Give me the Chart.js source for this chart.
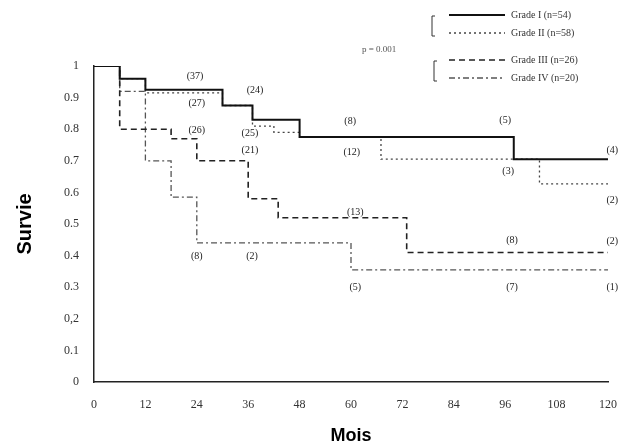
<!DOCTYPE html>
<html>
<head>
<meta charset="utf-8">
<script src="https://cdn.jsdelivr.net/npm/chart.js@4/dist/chart.umd.min.js"></script>
<style>
  html, body { margin: 0; padding: 0; background: #fff; }
  #wrap { width: 629px; height: 447px; }
</style>
</head>
<body>
<div id="wrap"><canvas id="survie" width="629" height="447"></canvas></div>
<script>
/* global Chart */

// Kaplan-Meier steps: month at which each step starts, and survival from then on
const endMonth = 120
const grade1Months = [0, 6, 12, 30, 37, 48, 98]
const grade1Surv = [1, 0.96, 0.925, 0.875, 0.83, 0.775, 0.705]
const grade2Months = [0, 6, 12, 30, 37, 42, 48, 67, 104]
const grade2Surv = [1, 0.96, 0.915, 0.875, 0.81, 0.79, 0.775, 0.705, 0.627]
const grade3Months = [0, 6, 18, 24, 36, 43, 73]
const grade3Surv = [1, 0.8, 0.77, 0.7, 0.58, 0.52, 0.41]
const grade4Months = [0, 6, 12, 18, 24, 60]
const grade4Surv = [1, 0.92, 0.7, 0.585, 0.44, 0.355]

const seriesNames = ['Grade I (n=54)', 'Grade II (n=58)', 'Grade III (n=26)', 'Grade IV (n=20)']
const pValue = 'p = 0.001'

// numbers at risk, anchored at (month, survival)
const riskText = ['(37)', '(24)', '(27)', '(26)', '(25)', '(21)', '(8)', '(12)', '(13)', '(5)',
  '(3)', '(4)', '(2)', '(8)', '(2)', '(8)', '(2)', '(5)', '(7)', '(1)']
const riskMonth = [23.6, 37.6, 24, 24, 36.4, 36.4, 59.8, 60.2, 61, 96,
  96.7, 121, 121, 97.6, 121, 24, 36.9, 61, 97.6, 121]
const riskSurv = [0.968, 0.924, 0.883, 0.797, 0.788, 0.734, 0.826, 0.728, 0.538, 0.829,
  0.665, 0.734, 0.576, 0.449, 0.446, 0.399, 0.399, 0.30, 0.30, 0.30]

const xTicks = [0, 12, 24, 36, 48, 60, 72, 84, 96, 108, 120]
const yTicks = [0, 0.1, 0.2, 0.3, 0.4, 0.5, 0.6, 0.7, 0.8, 0.9, 1]
const yTickText = ['0', '0.1', '0,2', '0.3', '0.4', '0.5', '0.6', '0.7', '0.8', '0.9', '1']

function steps (months, surv) {
  const pts = months.map((m, i) => ({ x: m, y: surv[i] }))
  pts.push({ x: endMonth, y: surv[surv.length - 1] })
  return pts
}

const serif = '"Liberation Serif", "DejaVu Serif", serif'

const extras = {
  id: 'extras',
  afterDatasetsDraw (chart) {
    const ctx = chart.ctx
    const xs = chart.scales.x
    const ys = chart.scales.y
    ctx.save()
    ctx.fillStyle = '#222'
    ctx.font = '10px ' + serif
    ctx.textAlign = 'center'
    ctx.textBaseline = 'middle'
    riskText.forEach((t, i) => {
      ctx.fillText(t, xs.getPixelForValue(riskMonth[i]), ys.getPixelForValue(riskSurv[i]))
    })

    // legend, top right
    const rows = [15, 33, 60, 78]
    chart.data.datasets.forEach((ds, i) => {
      ctx.beginPath()
      ctx.setLineDash(ds.borderDash || [])
      ctx.lineWidth = ds.borderWidth
      ctx.strokeStyle = ds.borderColor
      ctx.moveTo(449, rows[i])
      ctx.lineTo(505, rows[i])
      ctx.stroke()
      ctx.setLineDash([])
      ctx.fillStyle = '#333'
      ctx.font = '10px ' + serif
      ctx.textAlign = 'left'
      ctx.fillText(seriesNames[i], 511, rows[i])
    })
    ctx.strokeStyle = '#333'
    ctx.lineWidth = 1
    ctx.setLineDash([])
    ctx.beginPath()
    ctx.moveTo(435, 16); ctx.lineTo(432, 16); ctx.lineTo(432, 36); ctx.lineTo(435, 36)
    ctx.moveTo(437, 61); ctx.lineTo(434, 61); ctx.lineTo(434, 81); ctx.lineTo(437, 81)
    ctx.stroke()
    ctx.fillStyle = '#555'
    ctx.font = '9px ' + serif
    ctx.textAlign = 'left'
    ctx.fillText(pValue, 362, 50)
    ctx.restore()
  }
}

window.addEventListener('load', function () {
  const ctx = document.getElementById('survie').getContext('2d')
  // eslint-disable-next-line no-unused-vars
  const survie = new Chart(ctx, {
    type: 'line',
    data: {
      datasets: [
        {
          label: seriesNames[0],
          data: steps(grade1Months, grade1Surv),
          borderColor: '#111',
          borderWidth: 2,
          stepped: 'before'
        },
        {
          label: seriesNames[1],
          data: steps(grade2Months, grade2Surv),
          borderColor: '#444',
          borderWidth: 1.3,
          borderDash: [2, 3],
          stepped: 'before'
        },
        {
          label: seriesNames[2],
          data: steps(grade3Months, grade3Surv),
          borderColor: '#222',
          borderWidth: 1.6,
          borderDash: [6, 4],
          stepped: 'before'
        },
        {
          label: seriesNames[3],
          data: steps(grade4Months, grade4Surv),
          borderColor: '#555',
          borderWidth: 1.3,
          borderDash: [6, 3, 2, 3],
          stepped: 'before'
        }
      ]
    },
    options: {
      responsive: false,
      animation: false,
      layout: { padding: { top: 66, right: 21, left: 0, bottom: 0 } },
      elements: { point: { radius: 0 } },
      plugins: { legend: { display: false }, tooltip: { enabled: false } },
      scales: {
        x: {
          type: 'linear',
          min: 0,
          max: 120,
          afterBuildTicks: (axis) => { axis.ticks = xTicks.map(v => ({ value: v })) },
          afterFit: (axis) => { axis.height = 65 },
          grid: { display: false, drawTicks: true, tickLength: 4, color: '#333' },
          border: { display: true, color: '#222', width: 1.5 },
          ticks: { color: '#333', font: { family: serif, size: 12 }, padding: 12, maxRotation: 0 },
          title: {
            display: true,
            text: 'Mois',
            color: '#000',
            font: { family: 'Liberation Sans, Arial, sans-serif', size: 18, weight: 'bold' },
            padding: { top: 0, bottom: 0 }
          }
        },
        y: {
          min: 0,
          max: 1,
          afterBuildTicks: (axis) => { axis.ticks = yTicks.map(v => ({ value: v })) },
          afterFit: (axis) => { axis.width = 94 },
          grid: { display: false, drawTicks: true, tickLength: 6, color: '#333' },
          border: { display: true, color: '#222', width: 1.5 },
          ticks: {
            color: '#333',
            font: { family: serif, size: 12 },
            padding: 9,
            callback: (v) => yTickText[yTicks.indexOf(v)]
          },
          title: {
            display: true,
            text: 'Survie',
            color: '#000',
            font: { family: 'Liberation Sans, Arial, sans-serif', size: 20, weight: 'bold' },
            padding: { top: 13, bottom: 0 }
          }
        }
      }
    },
    plugins: [extras]
  })
})
</script>
</body>
</html>
